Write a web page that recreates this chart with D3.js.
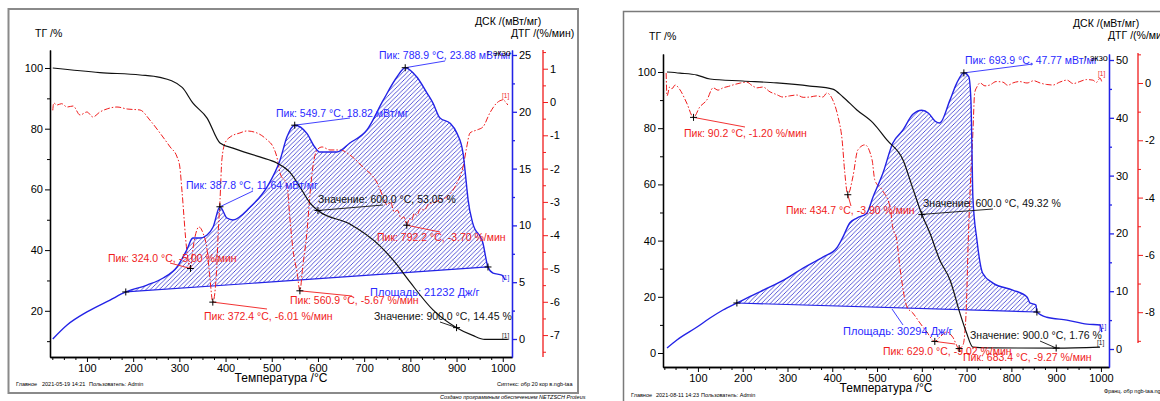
<!DOCTYPE html>
<html><head><meta charset="utf-8">
<script src="https://cdn.jsdelivr.net/npm/d3@7"></script>
<style>
body{margin:0;background:#fff;}
svg{display:block;font-family:"Liberation Sans",Arial,sans-serif;}
</style>
</head><body>
<svg id="c" width="1160" height="401"></svg>
<script>
// ===== DATA: left measurement (2021-05-19) =====
const leftTG = [[26,100],[128,98.5],[215,97.7],[258,96.9],[306,93.6],[329,88.5],[360,83.5],[388,75.3],[416,73.6],[474,70.7],[511,68.7],[539,65.7],[565,59.8],[583,55.5],[600,53.05],[669,48.6],[734,41.4],[766,36.1],[799,29.5],[849,20.3],[900,14.45],[935,11.9],[961,10.6],[1011,10.6]];
const leftDSC = [[26,0],[57,1.23],[100,2.38],[150,3.43],[184,4.14],[230,4.75],[265,5.37],[295,6.34],[316,7.83],[329,8.89],[345,8.89],[360,9.15],[373,9.86],[387.8,11.64],[403,10.65],[416,10.48],[453,11.6],[490,13.4],[518,15.76],[533,17.8],[549.7,18.82],[576,18.1],[593,16.9],[604,16.46],[641,16.46],[669,17.25],[706,18.4],[741,21.0],[771,23.06],[788.9,23.88],[814,23.06],[836,21.65],[849,20.77],[864,19.45],[886,19.0],[901,18.1],[914,16.37],[922,13.38],[925,12.24],[935,10.2],[957,8.45],[968,6.34],[979,5.8],[998,5.63],[1005,5.2]];
const leftDTG = [[26,-0.25],[28,-0.03],[35,-0.09],[45,-0.05],[57,-0.15],[70,-0.12],[85,-0.39],[100,-0.3],[113,-0.45],[128,-0.3],[145,-0.2],[165,-0.15],[187,-0.21],[215,-0.24],[236,-0.54],[258,-0.93],[280,-1.35],[295,-1.65],[301,-1.95],[306,-2.73],[316,-4.44],[324,-5.0],[329,-4.44],[338,-3.84],[342,-3.75],[351,-3.93],[360,-4.44],[366,-5.26],[372.4,-6.01],[381,-4.95],[384,-3.93],[388,-2.94],[392,-1.74],[399,-1.23],[410,-1.05],[431,-0.93],[446,-0.87],[468,-0.93],[490,-1.14],[503,-1.35],[511,-1.65],[518,-2.13],[533,-2.5],[539,-3.45],[546,-4.44],[555,-5.13],[560.9,-5.67],[567,-4.95],[576,-3.93],[583,-2.73],[589,-1.95],[598,-1.44],[609,-1.35],[626,-1.44],[648,-1.44],[669,-1.59],[697,-1.95],[728,-2.43],[741,-2.85],[750,-3.1],[757,-3.0],[765,-3.3],[772,-3.25],[780,-3.5],[786,-3.45],[792.2,-3.7],[798,-3.5],[803,-3.55],[808,-3.35],[814,-3.4],[822,-3.2],[830,-3.25],[840,-3.05],[849,-3.03],[864,-2.94],[879,-2.85],[901,-2.43],[914,-1.95],[922,-1.35],[929,-0.93],[944,-0.84],[957,-0.75],[972,-0.33],[987,-0.03],[1000,0.06],[1011,-0.09]];
const leftIntegration = [184, 968];      // DSC peak-area limits, °C
const leftArea = "Площадь: 21232 Дж/г";
// [T, value, curve, text]
const leftNotes = [
  [788.9, 23.88, "dsc", "Пик: 788.9 °C, 23.88 мВт/мг"],
  [549.7, 18.82, "dsc", "Пик: 549.7 °C, 18.82 мВт/мг"],
  [387.8, 11.64, "dsc", "Пик: 387.8 °C, 11.64 мВт/мг"],
  [600.0, 53.05, "tg",  "Значение: 600.0 °C, 53.05 %"],
  [792.2, -3.70, "dtg", "Пик: 792.2 °C, -3.70 %/мин"],
  [324.0, -5.00, "dtg", "Пик: 324.0 °C, -5.00 %/мин"],
  [372.4, -6.01, "dtg", "Пик: 372.4 °C, -6.01 %/мин"],
  [560.9, -5.67, "dtg", "Пик: 560.9 °C, -5.67 %/мин"],
  [900.0, 14.45, "tg",  "Значение: 900.0 °C, 14.45 %"]
];
const leftFooter = ["Главное", "2021-05-19 14:21", "Пользователь: Admin", "Сиптекс: обр 20 кор в.ngb-taa"];

// ===== DATA: right measurement (2021-08-11) =====
const rightTG = [[31,100],[60,99.6],[98,98.9],[127,97.5],[200,96.8],[276,96.1],[350,95.0],[401,93.9],[424,91.1],[455,86.5],[491,81.9],[522,75.8],[558,68.7],[580,58.5],[600,49.32],[618,42.7],[640,33.1],[663,26],[685,14.2],[700,7.1],[714,2.1],[745,1.8],[900,1.76],[998,2.1]];
const rightDSC = [[31,0.17],[53,1.56],[98,3.8],[127,5.36],[156,6.75],[187,7.96],[223,9.34],[261,10.73],[299,12.28],[335,14.0],[379,15.9],[410,17.47],[424,19.4],[439,21.8],[455,22.66],[477,23.5],[491,26.3],[513,30.4],[535,35.6],[558,37.9],[580,40.6],[600,41.3],[615,40.8],[630,39.4],[640,39.1],[663,43.1],[678,46],[693.9,47.77],[705,47.1],[709.6,43.1],[712,34.4],[714,26.3],[723,18.9],[736,13.1],[759,11.4],[803,10.2],[835,9.0],[841,8.0],[855,7.6],[857,6.4],[879,5.5],[924,5.0],[969,4.3],[998,4.15],[1002,2.9]];
const rightDTG = [[29,0.35],[31,-0.45],[37,-0.14],[42,-0.2],[49,-0.07],[60,-0.24],[75,-0.7],[90.2,-1.2],[104,-0.84],[120,-0.59],[134,-0.17],[145,-0.25],[156,-0.17],[168,-0.12],[178,-0.07],[195,0.0],[209,0.03],[222,-0.1],[232,-0.17],[245,-0.14],[261,-0.31],[275,-0.4],[290,-0.49],[305,-0.45],[321,-0.42],[335,-0.5],[350,-0.49],[365,-0.45],[379,-0.49],[388,-0.35],[401,-0.59],[413,-1.19],[422,-1.99],[428,-3.14],[434.7,-3.9],[446,-3.28],[457,-2.34],[473,-2.16],[489,-2.69],[495,-3.39],[511,-3.73],[529,-4.33],[535,-5.03],[544,-5.48],[551,-6.42],[567,-7.82],[580,-8.03],[596,-8.38],[611,-8.69],[629,-9.02],[640,-8.87],[656,-8.69],[669,-8.87],[683.4,-9.27],[692,-9.14],[696,-8.73],[700,-7.57],[703,-5.83],[707,-4.08],[714,-1.75],[718,-0.35],[723,-0.14],[730,0],[741,-0.1],[752,-0.07],[766,0.05],[781,0.03],[792,-0.08],[803,0.0],[818,0.05],[835,0.0],[850,0.08],[864,0.0],[878,-0.05],[893,-0.07],[908,0.03],[924,0.1],[938,-0.02],[953,0.05],[968,0.12],[982,0.1],[990,0.02],[998,0.17],[1002,0.03]];
const rightIntegration = [187, 857];
const rightArea = "Площадь: 30294 Дж/г";
const rightNotes = [
  [693.9, 47.77, "dsc", "Пик: 693.9 °C, 47.77 мВт/мг"],
  [90.2, -1.20, "dtg", "Пик: 90.2 °C, -1.20 %/мин"],
  [434.7, -3.90, "dtg", "Пик: 434.7 °C, -3.90 %/мин"],
  [600.0, 49.32, "tg",  "Значение: 600.0 °C, 49.32 %"],
  [629.0, -9.02, "dtg", "Пик: 629.0 °C, -9.02 %/мин"],
  [683.4, -9.27, "dtg", "Пик: 683.4 °C, -9.27 %/мин"],
  [900.0, 1.76, "tg",  "Значение: 900.0 °C, 1.76 %"]
];
const rightFooter = ["Главное", "2021-08-11 14:23", "Пользователь: Admin", "Франц. обр ngb-taa.ngb-taa"];

// tick values
const xTicks = [100,200,300,400,500,600,700,800,900,1000];
const leftTGTicks = [20,40,60,80,100], leftDSCTicks = [0,5,10,15,20,25], leftDTGTicks = [-7,-6,-5,-4,-3,-2,-1,0,1];
const rightTGTicks = [0,20,40,60,80,100], rightDSCTicks = [0,10,20,30,40,50], rightDTGTicks = [-8,-6,-4,-2,0];

// ===== LAYOUT (pixels) =====
const LBLUE = "#2323e6", RED = "#f01c1c", TBLUE = "#2b2bff";
const leftLayout = {
  x0:50, x1:512, xDom:[20,1020], yTop:50, yBot:357,
  tgDom:[4.78,105.93], dscDom:[-1.585,25.44], dtgDom:[-7.658,1.562],
  dtgX:543, dtgLine:[50,357], minorTG:10, minorDSC:2.5, minorDTG:0.5,
  notes:[[379,59,445,61],[276,117,350,118],[186,189,253,191],[318,203,383,205],[377,241,440,232],[108,262,170,263],[204,320,267,309],[290,304,352,296],[374,320,440,322]],
  area:[370,296,null],
  tgTitle:[35,37], dscTitle:[475,25], dtgTitle:[511,37], exo:[486,56],
  xTitle:[281,382], tags:[[502,98],[502,280],[502,338]],
  footer:[[16,386],[42,386],[89,386],[497,386]]
};
const rightLayout = {
  x0:663, x1:1109, xDom:[22,1018], yTop:54, yBot:367,
  tgDom:[-4.98,106.4], dscDom:[-3.114,51.04], dtgDom:[-9.913,1.012],
  dtgX:1138, dtgLine:[53,343], minorTG:10, minorDSC:5, minorDTG:1,
  notes:[[965,64,1033,64],[684,137,745,127],[786,214,851,206],[923,207,993,209],[883,355,955,344],[963,361,961,352],[970,339,1040,341]],
  area:[843,335,[892,309,903,325]],
  tgTitle:[649,40], dscTitle:[1073,27], dtgTitle:[1108,39], exo:[1083,61],
  xTitle:[886,392], tags:[[1098,76],[1099,329],[1097,345]],
  footer:[[631,397],[656,397],[701,397],[1104,393]]
};

const svg = d3.select("#c");
const defs = svg.append("defs");
const pat = defs.append("pattern").attr("id","hatch").attr("patternUnits","userSpaceOnUse")
  .attr("width",4.4).attr("height",4.4);
pat.append("path").attr("d","M-1,1 L1,-1 M0,4.4 L4.4,0 M3.4,5.4 L5.4,3.4")
  .attr("stroke","#3a3ad0").attr("stroke-width",0.85);

// frames
svg.append("rect").attr("x",8.5).attr("y",9).attr("width",569.5).attr("height",384)
  .attr("fill","none").attr("stroke","#8a8a8a").attr("stroke-width",2);
svg.append("path").attr("d","M623.5,401 L623.5,11.5 L1160,11.5")
  .attr("fill","none").attr("stroke","#7a7a7a").attr("stroke-width",1.5);

function smallText(g, x, y, t, opt={}) {
  return g.append("text").attr("x",x).attr("y",y).text(t)
    .attr("font-size", opt.size || 10.5).attr("fill", opt.fill || "#000")
    .attr("font-style", opt.italic ? "italic" : null)
    .attr("text-anchor", opt.anchor || "start");
}

function panel(L, tg, dsc, dtg, integ, areaText, notes, footer, tgT, dscT, dtgT) {
  const g = svg.append("g");
  const x = d3.scaleLinear().domain(L.xDom).range([L.x0, L.x1]);
  const yTG = d3.scaleLinear().domain(L.tgDom).range([L.yBot, L.yTop]);
  const yDSC = d3.scaleLinear().domain(L.dscDom).range([L.yBot, L.yTop]);
  const yDTG = d3.scaleLinear().domain(L.dtgDom).range([L.yBot, L.yTop]);
  const fmt = d => String(d);

  // x axis
  const minX = d3.range(25, 1020, 25).filter(v => v % 100 !== 0 && v >= L.xDom[0] && v <= L.xDom[1]);
  g.append("g").attr("transform",`translate(0,${L.yBot})`)
    .call(d3.axisBottom(x).tickValues(minX).tickSize(3).tickSizeOuter(0).tickFormat(""));
  g.append("g").attr("transform",`translate(0,${L.yBot})`)
    .call(d3.axisBottom(x).tickValues(xTicks).tickSize(5).tickPadding(2).tickSizeOuter(0).tickFormat(fmt));
  // TG axis
  const minTG = d3.range(0, 110, L.minorTG).filter(v => !tgT.includes(v) && v >= L.tgDom[0] && v <= L.tgDom[1]);
  g.append("g").attr("transform",`translate(${L.x0},0)`)
    .call(d3.axisLeft(yTG).tickValues(minTG).tickSize(3).tickSizeOuter(0).tickFormat(""));
  g.append("g").attr("transform",`translate(${L.x0},0)`)
    .call(d3.axisLeft(yTG).tickValues(tgT).tickSize(5).tickPadding(2).tickSizeOuter(0).tickFormat(fmt));
  // DSC axis
  const minDSC = d3.range(L.dscDom[0] - (L.dscDom[0] % L.minorDSC), L.dscDom[1], L.minorDSC)
    .map(v => +v.toFixed(2)).filter(v => !dscT.includes(v) && v >= L.dscDom[0]);
  const aD1 = g.append("g").attr("transform",`translate(${L.x1},0)`)
    .call(d3.axisRight(yDSC).tickValues(minDSC).tickSize(3).tickSizeOuter(0).tickFormat(""));
  const aD2 = g.append("g").attr("transform",`translate(${L.x1},0)`)
    .call(d3.axisRight(yDSC).tickValues(dscT).tickSize(5).tickPadding(2).tickSizeOuter(0).tickFormat(fmt));
  [aD1, aD2].forEach(a => { a.selectAll("line,path").attr("stroke", LBLUE).attr("stroke-width",1.3); });
  // DTG axis
  const minDTG = d3.range(Math.ceil(L.dtgDom[0]/L.minorDTG)*L.minorDTG, L.dtgDom[1], L.minorDTG)
    .map(v => +v.toFixed(2)).filter(v => !dtgT.includes(v) && yDTG(v) >= L.dtgLine[0] && yDTG(v) <= L.dtgLine[1]);
  const aR1 = g.append("g").attr("transform",`translate(${L.dtgX},0)`)
    .call(d3.axisRight(yDTG).tickValues(minDTG).tickSize(3).tickSizeOuter(0).tickFormat(""));
  const aR2 = g.append("g").attr("transform",`translate(${L.dtgX},0)`)
    .call(d3.axisRight(yDTG).tickValues(dtgT).tickSize(5).tickPadding(2).tickSizeOuter(0).tickFormat(fmt));
  [aR1, aR2].forEach(a => { a.select(".domain").remove(); a.selectAll("line").attr("stroke", RED); });
  g.append("line").attr("x1",L.dtgX).attr("x2",L.dtgX).attr("y1",L.dtgLine[0]).attr("y2",L.dtgLine[1])
    .attr("stroke",RED).attr("stroke-width",1.3);

  g.selectAll(".tick text").attr("font-size",11).attr("font-family",'"Liberation Sans",Arial,sans-serif').attr("fill","#000");
  g.selectAll(".domain").attr("stroke-width",1.3);

  // integration area
  const p0 = dsc.find(p => p[0] === integ[0]), p1 = dsc.find(p => p[0] === integ[1]);
  const base = T => p0[1] + (p1[1]-p0[1]) * (T - p0[0]) / (p1[0] - p0[0]);
  const seg = dsc.filter(p => p[0] >= integ[0] && p[0] <= integ[1]);
  g.append("path").datum(seg)
    .attr("d", d3.area().x(p => x(p[0])).y0(p => yDSC(base(p[0]))).y1(p => yDSC(p[1])).curve(d3.curveMonotoneX))
    .attr("fill","url(#hatch)").attr("stroke","none");
  g.append("line").attr("x1",x(p0[0])).attr("y1",yDSC(p0[1])).attr("x2",x(p1[0])).attr("y2",yDSC(p1[1]))
    .attr("stroke",LBLUE).attr("stroke-width",1.2);

  // curves
  const line = (ys) => d3.line().x(p => x(p[0])).y(p => ys(p[1])).curve(d3.curveMonotoneX);
  g.append("path").datum(dtg).attr("d", line(yDTG)).attr("fill","none").attr("stroke",RED)
    .attr("stroke-width",1).attr("stroke-dasharray","6,2,1.5,2");
  g.append("path").datum(dsc).attr("d", line(yDSC)).attr("fill","none").attr("stroke",LBLUE).attr("stroke-width",1.4);
  g.append("path").datum(tg).attr("d", line(yTG)).attr("fill","none").attr("stroke","#111").attr("stroke-width",1.2);

  // markers at integration limits
  const cross = (cx, cy) => g.append("path").attr("d",`M${cx-3.5},${cy}H${cx+3.5}M${cx},${cy-3.5}V${cy+3.5}`)
    .attr("stroke","#000").attr("stroke-width",1);
  cross(x(p0[0]), yDSC(p0[1])); cross(x(p1[0]), yDSC(p1[1]));

  // annotations
  const ys = {tg:yTG, dsc:yDSC, dtg:yDTG};
  const col = {tg:"#111", dsc:TBLUE, dtg:RED};
  notes.forEach((n, i) => {
    const [tx, ty, lx, ly] = L.notes[i];
    const mx = x(n[0]), my = ys[n[2]](n[1]);
    g.append("line").attr("x1",mx).attr("y1",my).attr("x2",lx).attr("y2",ly)
      .attr("stroke",col[n[2]]).attr("stroke-width",0.9);
    cross(mx, my);
    smallText(g, tx, ty, n[3], {fill: col[n[2]]});
  });
  smallText(g, L.area[0], L.area[1], areaText, {fill: TBLUE, size: 11});
  if (L.area[2]) g.append("line").attr("x1",L.area[2][0]).attr("y1",L.area[2][1]).attr("x2",L.area[2][2]).attr("y2",L.area[2][3])
    .attr("stroke",TBLUE).attr("stroke-width",0.9);

  // titles
  smallText(g, L.tgTitle[0], L.tgTitle[1], "ТГ /%", {size:10.5});
  smallText(g, L.dscTitle[0], L.dscTitle[1], "ДСК /(мВт/мг)", {size:10.5});
  smallText(g, L.dtgTitle[0], L.dtgTitle[1], "ДТГ /(%/мин)", {size:10.5});
  smallText(g, L.exo[0], L.exo[1], "↑ экзо", {size:9});
  smallText(g, L.xTitle[0], L.xTitle[1], "Температура /°C", {size:12, anchor:"middle"});
  const tagCol = [RED, LBLUE, "#111"];
  L.tags.forEach((t, i) => smallText(g, t[0], t[1], "[1]", {size:6.5, fill: tagCol[i]}));
  footer.forEach((f, i) => smallText(g, L.footer[i][0], L.footer[i][1], f, {size:5.5}));
}

panel(leftLayout, leftTG, leftDSC, leftDTG, leftIntegration, leftArea, leftNotes, leftFooter, leftTGTicks, leftDSCTicks, leftDTGTicks);
panel(rightLayout, rightTG, rightDSC, rightDTG, rightIntegration, rightArea, rightNotes, rightFooter, rightTGTicks, rightDSCTicks, rightDTGTicks);
smallText(svg, 440, 399, "Создано программным обеспечением NETZSCH Proteus", {size:5.5, italic:true});
</script>
</body></html>
